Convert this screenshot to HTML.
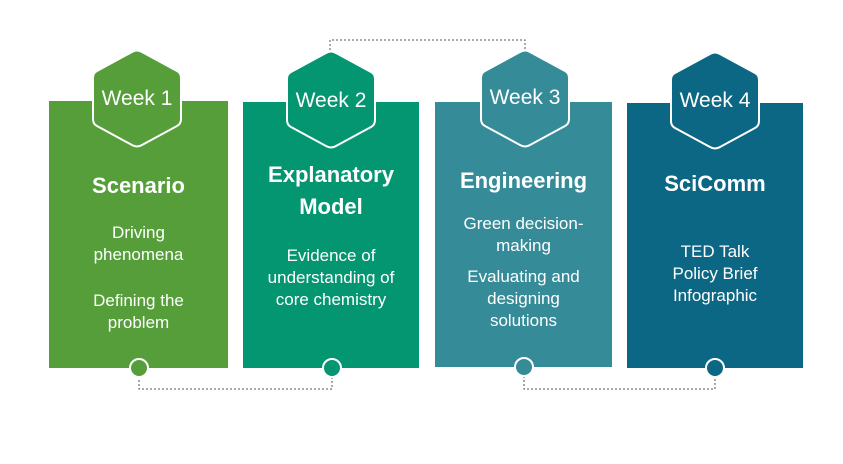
<!DOCTYPE html>
<html><head><style>
body{margin:0;background:#fff;width:843px;height:464px;overflow:hidden;font-family:"Liberation Sans",Arial,sans-serif;}
.t{position:absolute;color:#fff;text-align:center;}
.h{font-weight:bold;font-size:22px;line-height:32px;}
.b{font-size:17px;line-height:22px;}
</style></head><body>
<svg width="843" height="464" style="position:absolute;left:0;top:0">
<defs>
<path id="hx" d="M-5 -46 Q0 -49 5 -46 L40 -27 Q44 -25 44 -20 V21 Q44 26 40 28 L5 47 Q0 50 -5 47 L-40 28 Q-44 26 -44 21 V-20 Q-44 -25 -40 -27 Z"/>
</defs>
<g fill="none" stroke="#555" stroke-width="1" stroke-dasharray="2,2">
<path d="M139 376 V389 H332 V376"/>
<path d="M524 376 V389 H715 V376"/>
<path d="M330 50 V40 H525 V50"/>
</g>
<rect x="49" y="101" width="179" height="267" fill="#559E3A"/>
<rect x="243" y="102" width="176" height="266" fill="#049671"/>
<rect x="435" y="102" width="177" height="265" fill="#358B98"/>
<rect x="627" y="103" width="176" height="265" fill="#0B6783"/>
<g stroke="#fff" stroke-width="2" stroke-linejoin="round">
<use href="#hx" x="137" y="98" fill="#559E3A"/>
<use href="#hx" x="331" y="99" fill="#049671"/>
<use href="#hx" x="525" y="98" fill="#358B98"/>
<use href="#hx" x="715" y="100" fill="#0B6783"/>
<circle cx="139" cy="368" r="9" fill="#559E3A"/>
<circle cx="332" cy="368" r="9" fill="#049671"/>
<circle cx="524" cy="367" r="9" fill="#358B98"/>
<circle cx="715" cy="368" r="9" fill="#0B6783"/>
</g>
</svg>
<div class="t" style="left:88px;width:98px;top:87px;font-size:21px">Week 1</div>
<div class="t" style="left:282px;width:98px;top:89px;font-size:21px">Week 2</div>
<div class="t" style="left:476px;width:98px;top:86px;font-size:21px">Week 3</div>
<div class="t" style="left:666px;width:98px;top:89px;font-size:21px">Week 4</div>

<div class="t h" style="left:49px;width:179px;top:170px">Scenario</div>
<div class="t b" style="left:49px;width:179px;top:222px">Driving<br>phenomena</div>
<div class="t b" style="left:49px;width:179px;top:290px">Defining the<br>problem</div>

<div class="t h" style="left:243px;width:176px;top:159px">Explanatory<br>Model</div>
<div class="t b" style="left:243px;width:176px;top:245px">Evidence of<br>understanding of<br>core chemistry</div>

<div class="t h" style="left:435px;width:177px;top:165px">Engineering</div>
<div class="t b" style="left:435px;width:177px;top:213px">Green decision-<br>making</div>
<div class="t b" style="left:435px;width:177px;top:266px">Evaluating and<br>designing<br>solutions</div>

<div class="t h" style="left:627px;width:176px;top:168px">SciComm</div>
<div class="t b" style="left:627px;width:176px;top:241px">TED Talk<br>Policy Brief<br>Infographic</div>
</body></html>
